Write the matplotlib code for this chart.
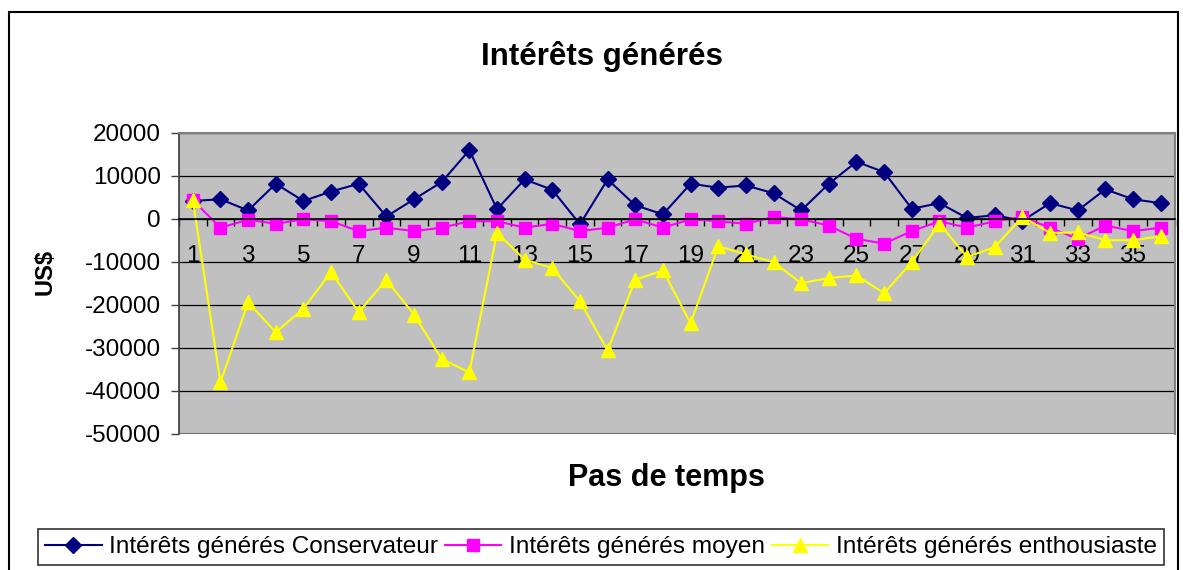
import matplotlib
matplotlib.use("Agg")
import matplotlib.pyplot as plt
from matplotlib.patches import Rectangle
from matplotlib.ticker import MultipleLocator, FixedLocator, NullFormatter

plt.rcParams['font.family'] = ['Liberation Sans', 'DejaVu Sans']
plt.rcParams['axes.unicode_minus'] = False

# data
steps = list(range(1, 37))
conservateur = [4100, 4500, 1900, 8100, 4100, 6300, 8100, 500, 4500, 8500,
                15900, 2200, 9100, 6700, -1300, 9100, 3100, 1000, 8100, 7200,
                7700, 5900, 1900, 8100, 13200, 10800, 2300, 3600, 150, 800,
                -500, 3600, 1900, 6800, 4500, 3600]
moyen = [4300, -2100, -240, -1200, -150, -600, -2900, -2100, -2900, -2100,
         -600, -600, -2100, -1200, -2900, -2100, -150, -2100, -150, -600,
         -1200, 400, -150, -1600, -4700, -5800, -2900, -600, -2100, -600,
         400, -2100, -4700, -1600, -2900, -2100]
enthousiaste = [4300, -38000, -19400, -26400, -20900, -12400, -21700, -14200, -22300, -32600,
                -35700, -3300, -9500, -11500, -19200, -30600, -14200, -12000, -24300, -6400,
                -8300, -10100, -15000, -13800, -13200, -17300, -10100, -1200, -8900, -6600,
                400, -3300, -3200, -5000, -5000, -4100]
labels = ['Intérêts générés Conservateur', 'Intérêts générés moyen', 'Intérêts générés enthousiaste']

fig = plt.figure(figsize=(11.83, 5.70), dpi=100)
W, H = 1183, 570

# outer chart border
fig.patches.append(Rectangle((9 / W, -0.01), (1178 - 9) / W, 1 - 12 / H + 0.01,
                             transform=fig.transFigure, fill=False, edgecolor='black', lw=1.5))

ax = fig.add_axes([179 / W, 1 - 434 / H, (1174.5 - 179) / W, (434 - 132.5) / H])
ax.set_facecolor('#C0C0C0')

ax.plot(steps, conservateur, color='#000080', marker='D', markersize=8, lw=1.5, label=labels[0])
ax.plot(steps, moyen, color='#FF00FF', marker='s', markersize=8, lw=1.5, label=labels[1])
ax.plot(steps, enthousiaste, color='#FFFF00', marker='^', markersize=10, lw=1.5, label=labels[2])

ax.set_xlim(0.5, 36.5)
ax.set_ylim(-50000, 20000)
ax.yaxis.set_major_locator(MultipleLocator(10000))
ax.yaxis.grid(True, color='black', lw=0.9)
ax.set_axisbelow(True)

# category axis crossing at zero
ax.spines['bottom'].set_position(('data', 0))
ax.spines['bottom'].set_color('black')
ax.spines['bottom'].set_linewidth(1.2)
ax.xaxis.set_major_locator(FixedLocator([s + 0.5 for s in [0] + steps]))
ax.xaxis.set_major_formatter(NullFormatter())
ax.xaxis.set_minor_locator(FixedLocator(steps[::2]))
ax.set_xticklabels([str(s) for s in steps[::2]], minor=True)
ax.tick_params(axis='x', which='major', length=5, direction='out', color='black', width=1)
ax.tick_params(axis='x', which='minor', length=0, pad=19, labelsize=17.5)
ax.tick_params(axis='y', length=6, width=1, color='#404040', pad=7, labelsize=17.5)

for side in ['top', 'right']:
    ax.spines[side].set_color('#808080')
    ax.spines[side].set_linewidth(1.5)
ax.spines['left'].set_color('#404040')
ax.spines['left'].set_linewidth(1.2)
ax.add_patch(Rectangle((0, 0), 1, 1, transform=ax.transAxes, fill=False,
                       edgecolor='#808080', lw=1.5, zorder=0.5))

fig.text(602 / W, 1 - 56 / H, 'Intérêts générés', ha='center', va='center',
         fontsize=22.5, fontweight='bold')
fig.text(666 / W, 1 - 478 / H, 'Pas de temps', ha='center', va='center',
         fontsize=22, fontweight='bold')
fig.text(45 / W, 1 - 272 / H, 'US$', ha='center', va='center', rotation=90,
         fontsize=17, fontweight='bold')

leg = fig.legend(loc='center', bbox_to_anchor=(601 / W, 1 - 547 / H), ncol=3,
                 fontsize=17.6, handlelength=2.3, handletextpad=0.3, columnspacing=0.3,
                 borderpad=0.3, fancybox=False, frameon=True, borderaxespad=0)
leg.get_frame().set_edgecolor('black')
leg.get_frame().set_linewidth(1.2)

fig.savefig('out.png', dpi=100)
